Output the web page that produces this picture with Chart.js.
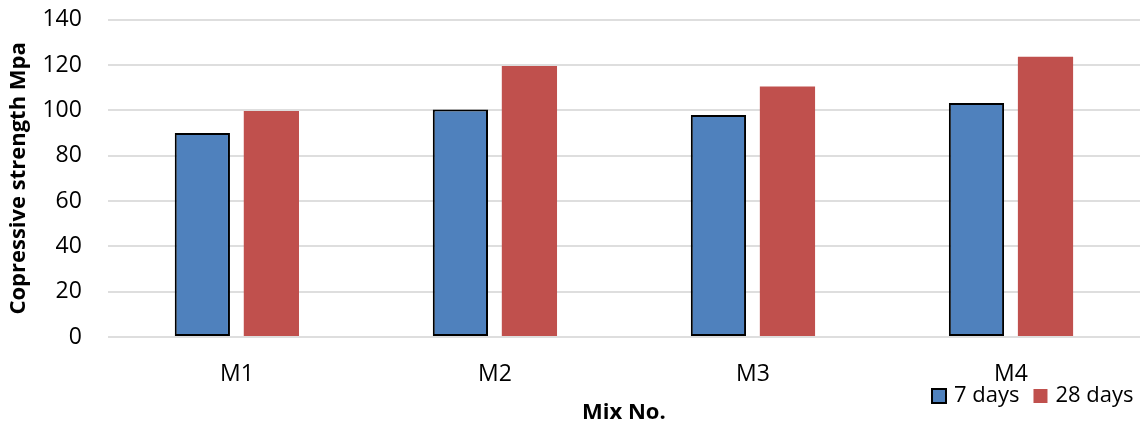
<!DOCTYPE html>
<html>
<head>
<meta charset="utf-8">
<script src="https://cdn.jsdelivr.net/npm/chart.js@4/dist/chart.umd.min.js"></script>
<style>
    html, body { margin: 0; padding: 0; background: #fff; }
    #wrap { width: 1146px; height: 426px; }
</style>
</head>
<body>
<div id="wrap"><canvas id="strength-chart"></canvas></div>
<script>
// Data
const mixes = ['M1', 'M2', 'M3', 'M4'];
const days7 = [90, 100.4, 98, 103.3];
const days28 = [99.8, 119.6, 110.6, 123.7];
const seriesNames = ['7 days', '28 days'];

const FONT = '"Open Sans", Lato, sans-serif';

// Legend drawn at the bottom right, beside the axis title (as in the reference)
const bottomLegend = {
    id: 'bottomLegend',
    afterDraw(chart) {
        const ctx = chart.ctx;
        const sets = chart.data.datasets;
        let x = 932;
        const y = 396;
        ctx.save();
        ctx.font = '22px ' + FONT;
        ctx.textBaseline = 'middle';
        sets.forEach((ds, i) => {
            ctx.fillStyle = ds.backgroundColor;
            ctx.fillRect(x, y - 7, 14, 14);
            if (ds.borderWidth) {
                ctx.strokeStyle = ds.borderColor;
                ctx.lineWidth = 2;
                ctx.strokeRect(x, y - 7, 14, 14);
            }
            ctx.fillStyle = '#000';
            ctx.fillText(seriesNames[i], x + 22, y);
            x += 22 + ctx.measureText(seriesNames[i]).width + 14;
        });
        ctx.restore();
    }
};

let strengthChart = null;
function createStrengthChart() {
    const ctx = document.getElementById('strength-chart').getContext('2d');
    strengthChart = new Chart(ctx, {
        type: 'bar',
        data: {
            labels: mixes,
            datasets: [{
                label: seriesNames[0],
                data: days7,
                backgroundColor: '#4f81bd',
                borderColor: '#000000',
                borderWidth: 2,
                borderSkipped: false,
                categoryPercentage: 0.535,
                barPercentage: 0.8
            }, {
                label: seriesNames[1],
                data: days28,
                backgroundColor: '#c0504d',
                borderWidth: 0,
                categoryPercentage: 0.535,
                barPercentage: 0.8
            }]
        },
        options: {
            responsive: true,
            maintainAspectRatio: false,
            animation: false,
            layout: {
                padding: { top: 0, right: 6, bottom: 0, left: 0 }
            },
            plugins: {
                legend: { display: false },
                tooltip: { enabled: false }
            },
            scales: {
                x: {
                    grid: { display: false },
                    border: { display: false },
                    ticks: {
                        color: '#000',
                        padding: 16,
                        font: { family: FONT, size: 23 }
                    },
                    title: {
                        display: true,
                        text: 'Mix No.',
                        color: '#000',
                        padding: { top: -5, bottom: 0 },
                        font: { family: FONT, size: 22, weight: 'bold' }
                    }
                },
                y: {
                    min: 0,
                    max: 140,
                    ticks: {
                        stepSize: 20,
                        color: '#000',
                        padding: 6,
                        font: { family: FONT, size: 23 }
                    },
                    grid: {
                        color: '#dedede',
                        lineWidth: 2,
                        drawTicks: true,
                        tickLength: 20,
                        tickColor: 'rgba(0,0,0,0)'
                    },
                    border: { display: false },
                    title: {
                        display: true,
                        text: 'Copressive strength Mpa',
                        color: '#000',
                        padding: { top: 6, bottom: 4 },
                        font: { family: FONT, size: 22, weight: 'bold' }
                    }
                }
            }
        },
        plugins: [bottomLegend]
    });
    return strengthChart;
}

createStrengthChart();
</script>
</body>
</html>
